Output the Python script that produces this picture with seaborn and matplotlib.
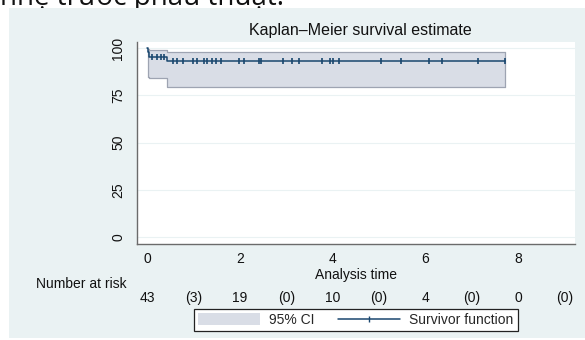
import numpy as np
import matplotlib
matplotlib.use("Agg")
import matplotlib.pyplot as plt
import matplotlib.transforms as mtransforms
from matplotlib.patches import Rectangle, Patch
from matplotlib.lines import Line2D
import seaborn as sns

# Kaplan-Meier step curve (percent survival)
km_time = [0.0, 0.02, 0.05, 0.42, 7.72]
km_surv = [100.0, 97.7, 95.3, 93.0, 93.0]

# 95% CI band
ci_time = [0.02, 0.05, 0.42, 7.72]
ci_low = [84.6, 84.0, 79.4, 79.4]
ci_high = [99.6, 99.0, 97.9, 97.9]

# censoring times
censor_times = [0.10, 0.22, 0.30, 0.37, 0.55, 0.65, 0.77, 1.00, 1.07, 1.23,
                1.30, 1.40, 1.49, 1.59, 1.99, 2.09, 2.42, 2.45, 2.94, 3.13,
                3.28, 3.76, 3.94, 4.00, 4.14, 5.04, 5.47, 6.07, 6.36, 7.13, 7.72]

# number-at-risk table
risk_pos = [0, 1, 2, 3, 4, 5, 6, 7, 8, 9]
risk_text = ["43", "(3)", "19", "(0)", "10", "(0)", "4", "(0)", "0", "(0)"]

x_ticks = [0, 2, 4, 6, 8]
y_ticks = [0, 25, 50, 75, 100]

NAVY = "#1A476F"
REGION = "#EAF2F3"
CI_FILL = "#D9DDE6"
CI_EDGE = "#9EA4B2"
TXT = "#111111"

sns.set_style("white")
plt.rcParams["font.family"] = ["Liberation Sans", "DejaVu Sans"]

W, H = 585, 340
fig = plt.figure(figsize=(W / 100, H / 100), dpi=100)
fig.patch.set_facecolor("white")

# Stata-like graph region
fig.add_artist(Rectangle((9 / W, 1 - 338 / H), (W - 9) / W, 330 / H,
                         transform=fig.transFigure, facecolor=REGION,
                         edgecolor="none", zorder=-1))

# caption line above the graph, cut off at the top edge as in the source
fig.text(0 / W, 1 - 5 / H, "nhẹ trước phẫu thuật.", fontsize=20,
         family=["Open Sans", "DejaVu Sans"], va="baseline", ha="left",
         color=TXT, zorder=-2)

ax = fig.add_axes([137 / W, 1 - 244 / H, (575 - 137) / W, (244 - 42) / H])
ax.set_facecolor("white")

# CI band
ax.fill_between(ci_time, ci_low, ci_high, step="post", facecolor=CI_FILL,
                edgecolor="none", zorder=1)
ax.step(ci_time, ci_low, where="post", color=CI_EDGE, lw=0.9, zorder=2)
ax.step(ci_time, ci_high, where="post", color=CI_EDGE, lw=0.9, zorder=2)
ax.plot([ci_time[0], ci_time[0]], [ci_low[0], ci_high[0]], color=CI_EDGE, lw=0.9, zorder=2)
ax.plot([ci_time[-1], ci_time[-1]], [ci_low[-1], ci_high[-1]], color=CI_EDGE, lw=0.9, zorder=2)

# survivor function
sns.lineplot(x=km_time, y=km_surv, drawstyle="steps-post", color=NAVY,
             lw=1.1, ax=ax, zorder=3, estimator=None)

# censoring marks placed on the curve
idx = np.searchsorted(km_time, censor_times, side="right") - 1
censor_surv = np.array(km_surv)[idx]
sns.scatterplot(x=censor_times, y=censor_surv, marker="|", s=14,
                color=NAVY, linewidth=1.2, ax=ax, zorder=4)

ax.set_xlim(-0.216, 9.22)
ax.set_ylim(-3.7, 103.2)
ax.set_xticks(x_ticks)
ax.set_yticks(y_ticks)
ax.yaxis.grid(True, color=REGION, lw=0.8)
ax.set_axisbelow(True)
for s in ["top", "right"]:
    ax.spines[s].set_visible(False)
for s in ["left", "bottom"]:
    ax.spines[s].set_color("#6b6b6b")
    ax.spines[s].set_linewidth(1.0)
ax.tick_params(axis="both", direction="out", length=3.5, width=0.9,
               color="#6b6b6b", labelsize=10, labelcolor=TXT)
ax.tick_params(axis="x", pad=2.5)
ax.tick_params(axis="y", pad=5)
for lab in ax.get_yticklabels():
    lab.set_rotation(90)
    lab.set_va("center")
ax.set_xlabel("Analysis time", fontsize=10, labelpad=1, color=TXT)
ax.set_ylabel("")

fig.text(360 / W, 1 - 31 / H, "Kaplan\u2013Meier survival estimate",
         fontsize=11.5, ha="center", va="center", color=TXT)

# number at risk
fig.text(36 / W, 1 - 284 / H, "Number at risk", fontsize=10, ha="left",
         va="center", color=TXT)
trans = mtransforms.blended_transform_factory(ax.transData, fig.transFigure)
for p, t in zip(risk_pos, risk_text):
    ax.text(p, 1 - 298 / H, t, transform=trans, fontsize=10, ha="center",
            va="center", color=TXT, clip_on=False)

handles = [Patch(facecolor=CI_FILL, edgecolor="none"),
           Line2D([0], [0], color=NAVY, lw=1.1, marker="|", markersize=4)]
leg = fig.legend(handles, ["95% CI", "Survivor function"], loc="center",
                 bbox_to_anchor=(356 / W, 1 - 320 / H), ncol=2, fontsize=10,
                 frameon=True, fancybox=False, handlelength=4.4,
                 handleheight=0.9, handletextpad=0.7, columnspacing=1.7,
                 borderpad=0.3)
leg.get_frame().set_edgecolor("#222222")
leg.get_frame().set_linewidth(0.9)
leg.get_frame().set_facecolor("white")
leg.get_frame().set_alpha(1)

fig.savefig("out.png", dpi=100)
